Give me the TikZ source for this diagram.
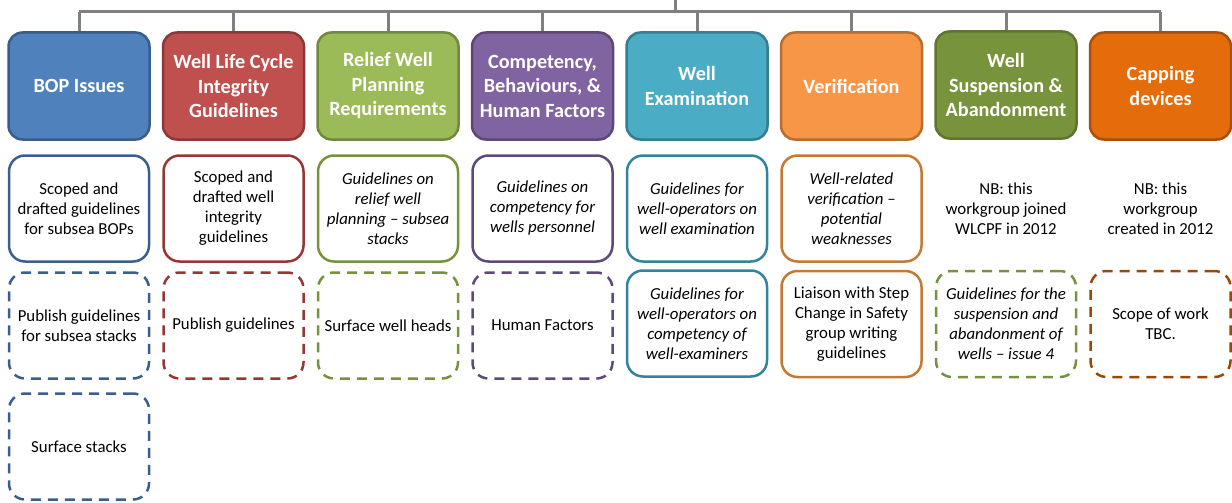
\documentclass[tikz,border=0pt]{standalone}
\usepackage{fontspec}
\setmainfont{Carlito}
\definecolor{fA}{HTML}{4F81BD}\definecolor{lA}{HTML}{385D8A}\definecolor{bA}{HTML}{3A5F8F}
\definecolor{fB}{HTML}{C0504D}\definecolor{lB}{HTML}{8C3836}\definecolor{bB}{HTML}{953735}
\definecolor{fC}{HTML}{9BBB59}\definecolor{lC}{HTML}{71893F}\definecolor{bC}{HTML}{76923C}
\definecolor{fD}{HTML}{8064A2}\definecolor{lD}{HTML}{5C4776}\definecolor{bD}{HTML}{5F497A}
\definecolor{fE}{HTML}{4BACC6}\definecolor{lE}{HTML}{357D91}\definecolor{bE}{HTML}{31849B}
\definecolor{fF}{HTML}{F79646}\definecolor{lF}{HTML}{B66D31}\definecolor{bF}{HTML}{C57A33}
\definecolor{fG}{HTML}{77933C}\definecolor{lG}{HTML}{5F7530}\definecolor{bG}{HTML}{76923C}
\definecolor{fH}{HTML}{E46C0A}\definecolor{lH}{HTML}{A5500F}\definecolor{bH}{HTML}{984807}
\definecolor{conncol}{HTML}{808080}
\newcommand{\bodyfont}{\fontsize{16.8}{20}\selectfont}
\tikzset{
  hdr/.style={rectangle, rounded corners=14pt, minimum width=141pt, minimum height=107pt,
    line width=2.5pt, text=white, align=center, inner sep=2pt,
    font=\bfseries\fontsize{20.2}{24.5}\selectfont},
  body/.style={rectangle, rounded corners=16pt, minimum width=140pt, minimum height=106pt,
    line width=2.5pt, fill=white, align=center, inner sep=1pt,
    font=\bodyfont},
  ibody/.style={body, font=\itshape\bodyfont},
  dbox/.style={body, dash pattern=on 10pt off 7pt},
  note/.style={align=center, font=\bodyfont},
  conn/.style={draw=conncol, line width=3pt}
}
\begin{document}
\begin{tikzpicture}[x=1pt,y=-1pt]
\useasboundingbox (0,0) rectangle (1232,503);
% headers
\node[hdr, fill=fA, draw=lA] (h1) at (79,86) {BOP Issues};
\node[hdr, fill=fB, draw=lB] (h2) at (233.5,86) {Well Life Cycle\\Integrity\\Guidelines};
\node[hdr, fill=fC, draw=lC] (h3) at (388,86) {Relief Well\\Planning\\Requirements};
\node[hdr, fill=fD, draw=lD] (h4) at (542.5,86) {Competency,\\Behaviours, \&\\Human Factors};
\node[hdr, fill=fE, draw=lE] (h5) at (697,86) {Well\\Examination};
\node[hdr, fill=fF, draw=lF] (h6) at (851.5,86) {Verification};
\node[hdr, fill=fG, draw=lG] (h7) at (1006,85) {Well\\Suspension \&\\Abandonment};
\node[hdr, fill=fH, draw=lH] (h8) at (1160.5,86) {Capping\\devices};
% connectors
\coordinate (root) at (675,0);
\coordinate (bus) at (675,12);
\coordinate (busL) at (79,12);
\coordinate (busR) at (1160.5,12);
\draw[conn] (root) -- (bus);
\draw[conn] (busL) -- (busR);
\foreach \i in {1,...,8} { \draw[conn] (h\i.north) -- (h\i.north |- bus); }
% row 2
\node[body, draw=bA] (b1) at (79,208.5) {Scoped and\\drafted guidelines\\for subsea BOPs};
\node[body, draw=bB] (b2) at (233.5,208.5) {Scoped and\\drafted well\\integrity\\guidelines};
\node[ibody, draw=bC] (b3) at (388,208.5) {Guidelines on\\relief well\\planning -- subsea\\stacks};
\node[ibody, draw=bD] (b4) at (542.5,208.5) {Guidelines on\\competency for\\wells personnel};
\node[ibody, draw=bE] (b5) at (697,208.5) {Guidelines for\\well-operators on\\well examination};
\node[ibody, draw=bF] (b6) at (851.5,208.5) {Well-related\\verification --\\potential\\weaknesses};
\node[note] (b7) at (1006,208.5) {NB: this\\workgroup joined\\WLCPF in 2012};
\node[note] (b8) at (1160.5,208.5) {NB: this\\workgroup\\created in 2012};
% row 3
\node[dbox, draw=bA] (c1) at (79,325.5) {Publish guidelines\\for subsea stacks};
\node[dbox, draw=bB] (c2) at (233.5,325.5) {Publish guidelines};
\node[dbox, draw=bC] (c3) at (388,325.5) {Surface well heads};
\node[dbox, draw=bD] (c4) at (542.5,325.5) {Human Factors};
\node[ibody, draw=bE] (c5) at (697,323.5) {Guidelines for\\well-operators on\\competency of\\well-examiners};
\node[body, draw=bF] (c6) at (851.5,324) {Liaison with Step\\Change in Safety\\group writing\\guidelines};
\node[dbox, draw=bG, font=\itshape\bodyfont] (c7) at (1006,324) {Guidelines for the\\suspension and\\abandonment of\\wells -- issue 4};
\node[dbox, draw=bH] (c8) at (1160.5,324) {Scope of work\\TBC.};
% row 4
\node[dbox, draw=bA] (d1) at (79,446.5) {Surface stacks};
\end{tikzpicture}
\end{document}
